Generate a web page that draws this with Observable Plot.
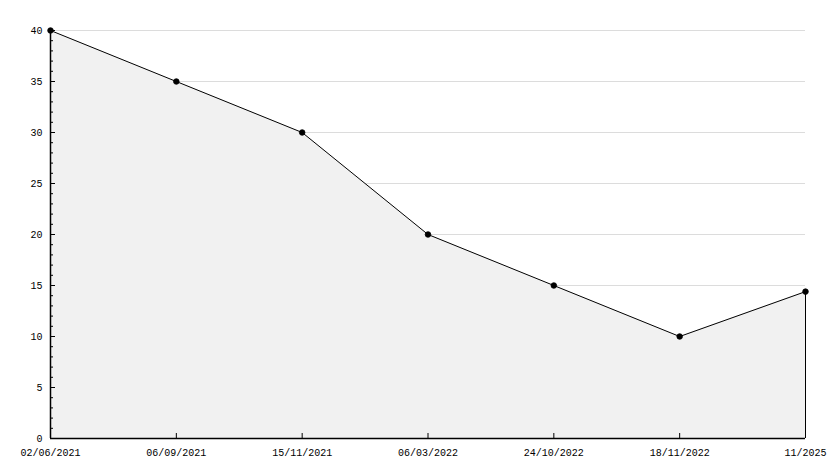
<!DOCTYPE html>
<html>
<head>
<meta charset="utf-8">
<script src="https://cdn.jsdelivr.net/npm/d3@7"></script>
<script src="https://cdn.jsdelivr.net/npm/@observablehq/plot@0.6"></script>
<style>
  html, body { margin: 0; padding: 0; background: #fff; }
  #chart svg { display: block; }
</style>
</head>
<body>
<div id="chart"></div>
<script>
const dates = ["02/06/2021", "06/09/2021", "15/11/2021", "06/03/2022", "24/10/2022", "18/11/2022", "11/2025"];
const values = [40, 35, 30, 20, 15, 10, 14.4];
const majorTicks = [0, 5, 10, 15, 20, 25, 30, 35, 40];
const minorTicks = d3.range(0, 41).filter(v => v % 5 !== 0);

const data = dates.map((d, i) => ({date: d, value: values[i]}));
const last = data[data.length - 1];

const W = 834, H = 468, ML = 50, MR = 29, MT = 30, MB = 30;
const innerW = W - ML - MR, innerH = H - MT - MB;

const chart = Plot.plot({
  width: W,
  height: H,
  marginLeft: ML,
  marginRight: MR,
  marginTop: MT,
  marginBottom: MB,
  style: {fontFamily: "Liberation Mono", fontSize: "10px", color: "#000", background: "#fff"},
  x: {type: "point", domain: dates, padding: 0, inset: 0, round: false, label: null},
  y: {domain: [0, 40], inset: 0, label: null},
  marks: [
    Plot.ruleY(majorTicks.filter(v => v > 0), {stroke: "#dcdcdc", strokeOpacity: 1}),
    Plot.areaY(data, {x: "date", y: "value", fill: "#f1f1f1"}),
    Plot.ruleX([last], {x: "date", y1: 0, y2: "value", stroke: "#000"}),
    Plot.lineY(data, {x: "date", y: "value", stroke: "#000", strokeWidth: 1}),
    Plot.dot(data, {x: "date", y: "value", r: 2.8, fill: "#000", stroke: "#000", strokeWidth: 0.8}),
    Plot.tickY(majorTicks, {y: d => d, insetRight: innerW - 5, stroke: "#000", strokeOpacity: 1}),
    Plot.tickY(minorTicks, {y: d => d, insetRight: innerW - 3, stroke: "#000", strokeOpacity: 1}),
    Plot.axisY(majorTicks, {tickSize: 0, tickPadding: 8, fill: "#000", fontSize: 10, label: null}),
    Plot.tickX(dates.slice(1), {x: d => d, insetTop: innerH - 5, stroke: "#000", strokeOpacity: 1}),
    Plot.axisX(dates, {tickSize: 0, tickPadding: 10, fill: "#000", fontSize: 10, label: null}),
    Plot.ruleX([dates[0]], {stroke: "#000", strokeWidth: 1.5}),
    Plot.ruleY([0], {stroke: "#000", strokeWidth: 1.5})
  ]
});
document.getElementById("chart").appendChild(chart);
</script>
</body>
</html>
